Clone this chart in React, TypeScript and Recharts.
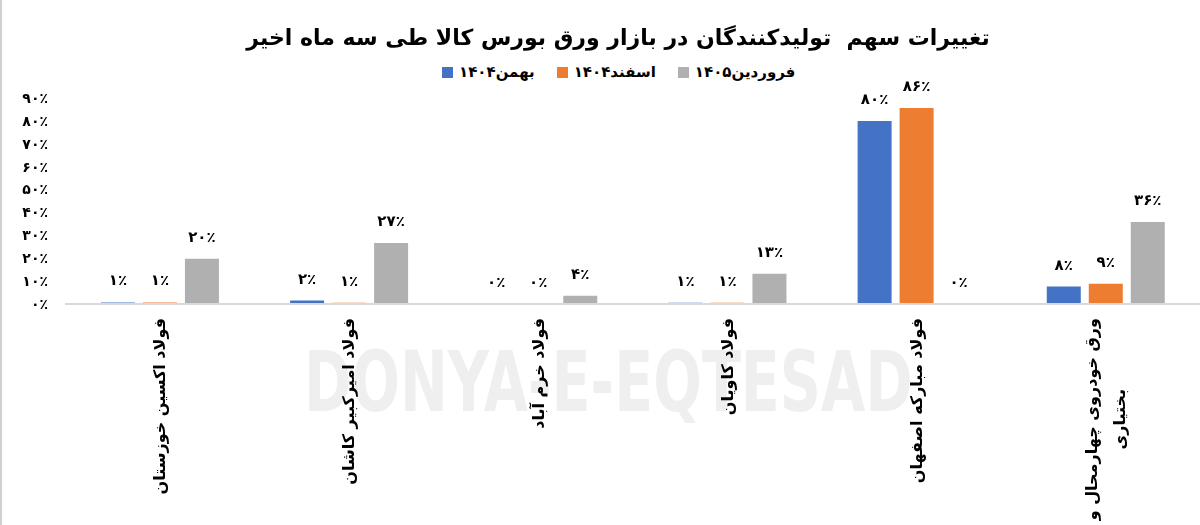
import { BarChart, Bar, XAxis, YAxis, LabelList } from 'recharts';

const categories = [
  'فولاد اکسین خوزستان',
  'فولاد امیرکبیر کاشان',
  'فولاد خرم آباد',
  'فولاد کاویان',
  'فولاد مبارکه اصفهان',
  'ورق خودروی چهارمحال و\nبختیاری',
];
const bahman1404 = [0.7, 1.5, 0.1, 0.6, 80, 7.6];
const esfand1404 = [0.7, 0.6, 0.1, 0.6, 85.6, 8.8];
const farvardin1405 = [19.8, 26.6, 3.6, 13.2, 0.1, 35.8];
const yTicks = [0, 10, 20, 30, 40, 50, 60, 70, 80, 90];

const seriesNames = ['بهمن۱۴۰۴', 'اسفند۱۴۰۴', 'فروردین۱۴۰۵'];
const COLORS = ['#4472C4', '#ED7D31', '#B0B0B0'];

const data = categories.map((name, i) => ({
  name,
  b: bahman1404[i],
  e: esfand1404[i],
  f: farvardin1405[i],
}));

const FONT = '"DejaVu Sans", sans-serif';
const faDigits = '۰۱۲۳۴۵۶۷۸۹';
const toFa = (n: number) => String(n).replace(/\d/g, (d) => faDigits[+d]);
const pct = (v: any) => toFa(Math.round(Number(v))) + '٪';

let ctx: CanvasRenderingContext2D | null = null;
function measure(text: string, font: string) {
  if (!ctx) ctx = document.createElement('canvas').getContext('2d');
  if (!ctx) return text.length * 8;
  ctx.font = font;
  return ctx.measureText(text).width;
}

const TICK_SIZE = 16;

function CategoryTick({ x, payload }: any) {
  const lines: string[] = String(payload.value).split('\n');
  const top = 318;
  const lh = 28;
  if (lines.length === 1) {
    return (
      <text
        x={x}
        y={top}
        transform={`rotate(-90, ${x}, ${top})`}
        textAnchor="end"
        dy="0.35em"
        fontFamily={FONT}
        fontSize={TICK_SIZE}
        fontWeight="bold"
        fill="#000"
      >
        {lines[0]}
      </text>
    );
  }
  const maxW = Math.max(...lines.map((l) => measure(l, `bold ${TICK_SIZE}px ${FONT}`)));
  const cy = top + maxW / 2;
  return (
    <g>
      {lines.map((l, i) => {
        const lx = x + (i - (lines.length - 1) / 2) * lh;
        return (
          <text
            key={i}
            x={lx}
            y={cy}
            transform={`rotate(-90, ${lx}, ${cy})`}
            textAnchor="middle"
            dy="0.35em"
            fontFamily={FONT}
            fontSize={TICK_SIZE}
            fontWeight="bold"
            fill="#000"
          >
            {l}
          </text>
        );
      })}
    </g>
  );
}

function ValueTick({ y, payload }: any) {
  return (
    <text x={46} y={y} textAnchor="end" dy="0.35em" fontFamily={FONT} fontSize={14} fontWeight="bold" fill="#000">
      {pct(payload.value)}
    </text>
  );
}

export default function App() {
  return (
    <div
      style={{
        position: 'fixed',
        left: 0,
        top: 0,
        width: 1200,
        height: 525,
        background: '#fff',
        fontFamily: FONT,
        borderLeft: '2px solid #d0d0d0',
        boxSizing: 'border-box',
      }}
    >
      <div
        style={{
          position: 'absolute',
          left: 302,
          top: 340,
          fontSize: 84,
          fontWeight: 'bold',
          color: '#efefef',
          whiteSpace: 'nowrap',
          lineHeight: 1,
          transform: 'scaleX(0.68)',
          transformOrigin: 'left top',
        }}
      >
        DONYA-E-EQTESAD
      </div>
      <div
        style={{
          position: 'absolute',
          left: 0,
          width: 1232,
          top: 25,
          textAlign: 'center',
          fontSize: 22,
          fontWeight: 'bold',
          direction: 'rtl',
          whiteSpace: 'pre',
          color: '#000',
        }}
      >
        {'تغییرات سهم  تولیدکنندگان در بازار ورق بورس کالا طی سه ماه اخیر'}
      </div>
      <div
        style={{
          position: 'absolute',
          left: 440,
          top: 63,
          display: 'flex',
          gap: 22,
          fontSize: 15,
          fontWeight: 'bold',
          color: '#000',
        }}
      >
        {seriesNames.map((s, i) => (
          <div key={s} style={{ display: 'flex', alignItems: 'center', gap: 6 }}>
            <div style={{ width: 11, height: 11, background: COLORS[i] }} />
            <span>{s}</span>
          </div>
        ))}
      </div>
      <BarChart
        width={1200}
        height={525}
        data={data}
        margin={{ top: 98, right: 2, bottom: 191, left: 0 }}
        barGap={8}
        barCategoryGap="19%"
        style={{ position: 'absolute', left: 0, top: 0 }}
      >
        <XAxis
          dataKey="name"
          height={30}
          interval={0}
          tickLine={false}
          axisLine={{ stroke: '#d9d9d9', strokeWidth: 2 }}
          tick={<CategoryTick />}
        />
        <YAxis
          width={63}
          domain={[0, 90]}
          ticks={yTicks}
          interval={0}
          axisLine={false}
          tickLine={false}
          tick={<ValueTick />}
        />
        {(['b', 'e', 'f'] as const).map((k, i) => (
          <Bar key={k} dataKey={k} name={seriesNames[i]} fill={COLORS[i]} isAnimationActive={false}>
            <LabelList
              dataKey={k}
              position="top"
              offset={17}
              formatter={pct}
              fill="#000"
              fontFamily={FONT}
              fontSize={15}
              fontWeight="bold"
            />
          </Bar>
        ))}
      </BarChart>
    </div>
  );
}
